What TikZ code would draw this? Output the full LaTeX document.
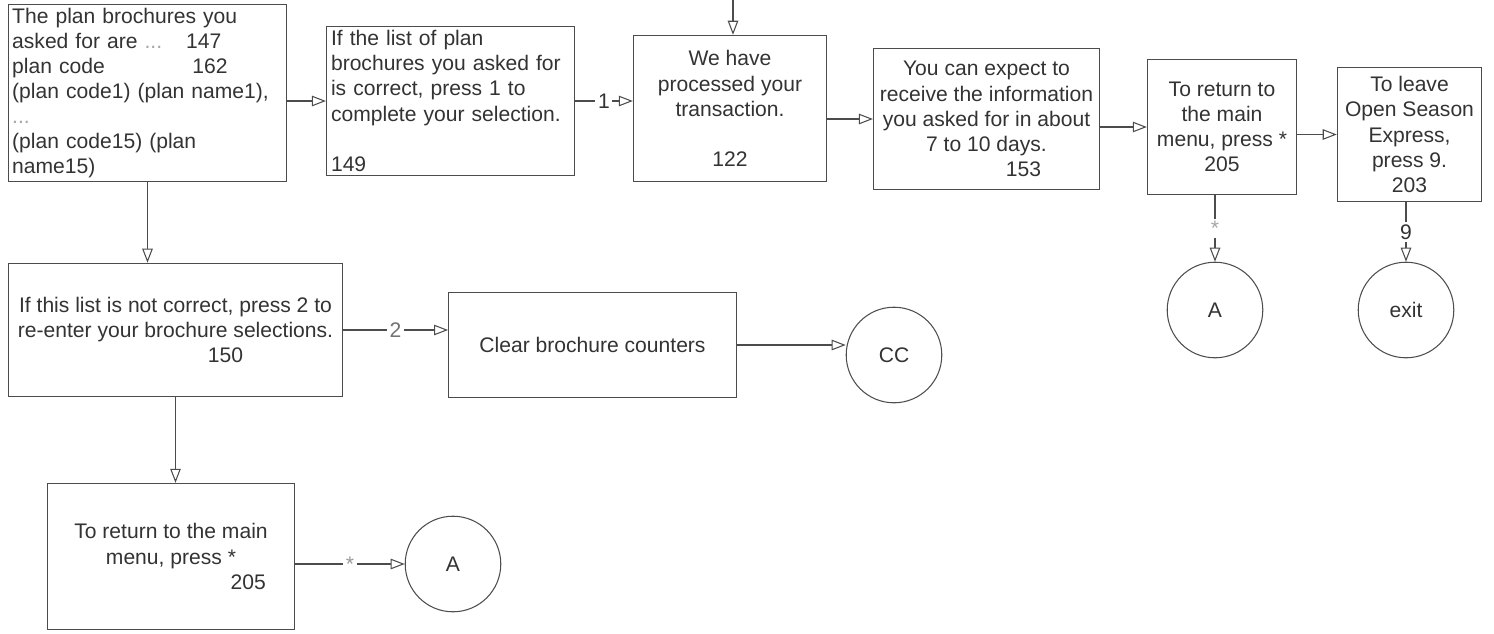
\documentclass[tikz,border=0pt]{standalone}
\usepackage{fontspec}
\setmainfont{Liberation Sans}
\usetikzlibrary{arrows.meta}

\begin{document}
\begin{tikzpicture}[x=0.02cm,y=-0.02cm,
    every node/.style={font=\fontsize{12}{14.3}\selectfont, text=black!80},
    box/.style={draw=black!70, line width=0.6pt, inner ysep=2pt},
    term/.style={draw=black!70, line width=0.6pt, circle, minimum size=54.4pt, inner sep=0pt},
    arr/.style={draw=black!70, line width=0.6pt, -{Triangle[open,length=8pt,width=6pt]}},
    lbl/.style={fill=white, inner sep=1.5pt}]
  \useasboundingbox (0,0) rectangle (1494,633);

  \node [box, align=left, text width=154pt, inner xsep=2.1pt, minimum height=94.1pt] (n147) at (147.5,93)
    {The plan brochures you\\
     \makebox[99pt][l]{asked for are \textcolor{black!35}{...}}147\\
     \makebox[102.6pt][l]{plan code}162\\
     (plan code1) (plan name1),\\
     \textcolor{black!35}{...}\\
     (plan code15) (plan\\
     name15)};
  \node [box, align=left, text width=136pt, inner xsep=2.6pt, minimum height=81.6pt] (n149) at (450.5,101)
    {If the list of plan\\
     brochures you asked for\\
     is correct, press 1 to\\
     complete your selection.\\[14.3pt]
     149};
  \node [box, align=center, minimum width=110pt, minimum height=83.3pt] (n122) at (730,108.5)
    {We have\\ processed your\\ transaction.\\[14.3pt] 122};
  \node [box, align=center, minimum width=128.7pt, minimum height=80.5pt] (n153) at (986.5,119)
    {You can expect to\\ receive the information\\ you asked for in about\\ 7 to 10 days.\\ \hspace*{42pt}153};
  \node [box, align=center, minimum width=85pt, minimum height=77.1pt] (n205) at (1222,127)
    {To return to\\ the main\\ menu, press *\\ 205};
  \node [box, align=center, minimum width=82.2pt, minimum height=76.5pt] (n203) at (1409.5,134.5)
    {To leave\\ Open Season\\ Express,\\ press 9.\\ 203};
  \node [box, align=center, minimum width=190pt, minimum height=76pt] (n150) at (175.5,330)
    {If this list is not correct, press 2 to\\ re-enter your brochure selections.\\ \hspace*{57pt}150};
  \node [box, minimum width=163.8pt, minimum height=60.1pt] (clr) at (592.5,345) {Clear brochure counters};
  \node [box, align=center, minimum width=140.6pt, minimum height=83.3pt] (ret) at (171,556.5)
    {To return to the main\\ menu, press *\\ \hspace*{88pt}205};

  \node [term] (a1) at (1215,310) {A};
  \node [term] (ex) at (1406,310) {exit};
  \node [term] (cc) at (894,355) {CC};
  \node [term] (a2) at (453,564) {A};

  \coordinate (in) at (733,0);
  \draw [arr] (in) -- (in |- n122.north);
  \draw [arr] (n147.east |- n149.west) -- (n149.west);
  \draw [arr] (n149.east) -- node [lbl] {1} (n149.east -| n122.west);
  \draw [arr] (n153.west -| n122.east) -- (n153.west);
  \draw [arr] (n205.west -| n153.east) -- (n205.west);
  \draw [arr] (n203.west -| n205.east) -- (n203.west);
  \draw [arr] (n205.south -| a1) -- node [lbl, text=black!35] {*} (a1.north);
  \draw [arr] (n203.south -| ex) -- node [lbl] {9} (ex.north);
  \draw [arr] (n147.south) -- (n147.south |- n150.north);
  \draw [arr] (n150.east) -- node [lbl, text=black!55] {2} (n150.east -| clr.west);
  \draw [arr] (clr.east) -- (clr.east -| cc.west);
  \draw [arr] (n150.south) -- (n150.south |- ret.north);
  \draw [arr] (ret.east |- a2) -- node [lbl, text=black!40] {*} (a2.west);
\end{tikzpicture}
\end{document}
